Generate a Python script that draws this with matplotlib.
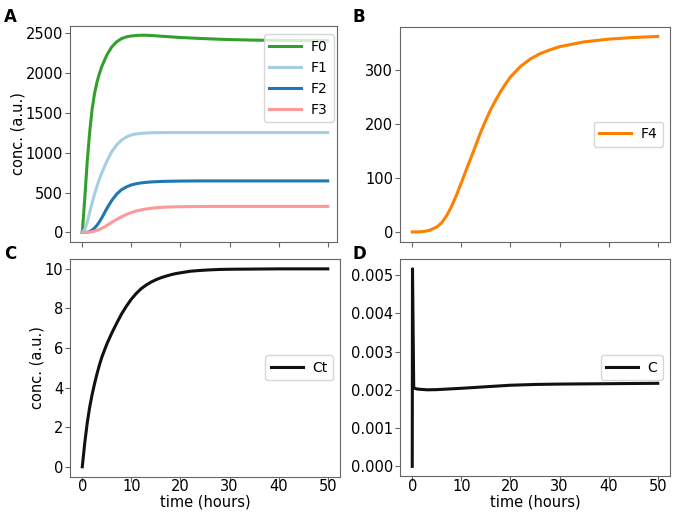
import numpy as np
import matplotlib.pyplot as plt

# time points (hours)
t = [0, 0.5, 1, 1.5, 2, 2.5, 3, 3.5, 4, 5, 6, 7, 8, 9, 10, 11, 12, 13, 14, 15,
     16, 17, 18, 19, 20, 22, 24, 26, 28, 30, 35, 40, 45, 50]

# panel A
F0 = [0, 420, 880, 1250, 1540, 1740, 1880, 1990, 2080, 2220, 2320, 2385, 2425, 2447, 2458, 2464, 2467, 2467, 2464, 2460,
      2455, 2451, 2447, 2443, 2439, 2433, 2427, 2422, 2417, 2413, 2406, 2402, 2400, 2400]
F1 = [0, 40, 130, 250, 370, 480, 580, 670, 750, 890, 1010, 1095, 1155, 1195, 1220, 1233, 1240, 1244, 1247, 1248,
      1249, 1250, 1250, 1250, 1250, 1250, 1250, 1250, 1250, 1250, 1250, 1250, 1250, 1250]
F2 = [0, 0, 3, 12, 30, 55, 90, 135, 185, 300, 400, 480, 535, 570, 595, 610, 620, 627, 632, 635,
      638, 640, 641, 642, 643, 644, 645, 645, 645, 645, 645, 645, 645, 645]
F3 = [0, 0, 2, 5, 10, 17, 27, 38, 52, 88, 126, 163, 196, 226, 250, 268, 283, 294, 303, 309,
      314, 317, 319, 321, 322, 324, 325, 326, 326, 326, 326, 326, 326, 326]

# panel B
F4 = [0, 0, 0, 0.2, 0.5, 1, 2, 3, 5, 9, 17, 30, 47, 68, 91, 115, 138, 162, 186, 207,
      227, 244, 260, 274, 287, 306, 320, 330, 337, 343, 352, 357, 360, 362]

# panel C
Ct = [0, 1.2, 2.2, 3.0, 3.65, 4.2, 4.7, 5.15, 5.55, 6.2, 6.75, 7.25, 7.72, 8.12, 8.47, 8.76, 9.0, 9.18, 9.33, 9.45,
      9.55, 9.63, 9.7, 9.76, 9.8, 9.88, 9.92, 9.95, 9.97, 9.98, 9.99, 10, 10, 10]

# panel D
tC = [0, 0.05, 0.3, 1, 3, 5, 10, 15, 20, 25, 30, 40, 50]
C = [0, 0.00516, 0.00205, 0.00202, 0.00200, 0.002005, 0.00204, 0.00208, 0.00212, 0.00214, 0.00215, 0.00216, 0.00217]

plt.rcParams['font.size'] = 10.5
plt.rcParams['axes.edgecolor'] = '#666666'
plt.rcParams['axes.labelsize'] = 10.5
plt.rcParams['legend.fontsize'] = 10
plt.rcParams['legend.handlelength'] = 2.3
plt.rcParams['legend.handletextpad'] = 0.7

fig = plt.figure(figsize=(6.85, 5.13), dpi=100)
axA = fig.add_axes([0.1022, 0.5289, 0.3898, 0.4200])
axB = fig.add_axes([0.5839, 0.5289, 0.3942, 0.4191])
axC = fig.add_axes([0.1022, 0.0708, 0.3942, 0.4244])
axD = fig.add_axes([0.5839, 0.0716, 0.3942, 0.4236])

lw = 2.2
axA.plot(t, F0, color='#33a02c', lw=lw, label='F0')
axA.plot(t, F1, color='#a6cee3', lw=lw, label='F1')
axA.plot(t, F2, color='#1f78b4', lw=lw, label='F2')
axA.plot(t, F3, color='#fb9a99', lw=lw, label='F3')
axA.set_ylabel('conc. (a.u.)', labelpad=0)
axA.set_yticks([0, 500, 1000, 1500, 2000, 2500])
axA.set_ylim(-115, 2580)
axA.legend(loc='upper right', bbox_to_anchor=(0.987, 0.963), borderaxespad=0)

axB.plot(t, F4, color='#ff7f00', lw=lw, label='F4')
axB.set_yticks([0, 100, 200, 300])
axB.legend(loc='center right')

axC.plot(t, Ct, color='#111111', lw=lw, label='Ct')
axC.set_ylabel('conc. (a.u.)', labelpad=0)
axC.set_xlabel('time (hours)', labelpad=0)
axC.legend(loc='center right')

axD.plot(tC, C, color='#111111', lw=lw, label='C')
axD.set_xlabel('time (hours)', labelpad=0)
axD.set_yticks([0, 0.001, 0.002, 0.003, 0.004, 0.005])
axD.legend(loc='center right')

for ax in [axA, axB, axC, axD]:
    ax.set_xticks([0, 10, 20, 30, 40, 50])
    ax.set_xlim(-2.5, 52.5)
    ax.tick_params(axis='x', pad=-1.5, color='#666666')
    ax.tick_params(axis='y', pad=1.5, color='#666666')
axA.set_xlim(-2.5, 51.9)
for ax in [axA, axB]:
    ax.set_xticklabels([])

fig.text(0.006, 0.985, 'A', fontsize=12, fontweight='bold', va='top')
fig.text(0.515, 0.985, 'B', fontsize=12, fontweight='bold', va='top')
fig.text(0.006, 0.522, 'C', fontsize=12, fontweight='bold', va='top')
fig.text(0.515, 0.522, 'D', fontsize=12, fontweight='bold', va='top')

fig.savefig('out.png', dpi=100)
